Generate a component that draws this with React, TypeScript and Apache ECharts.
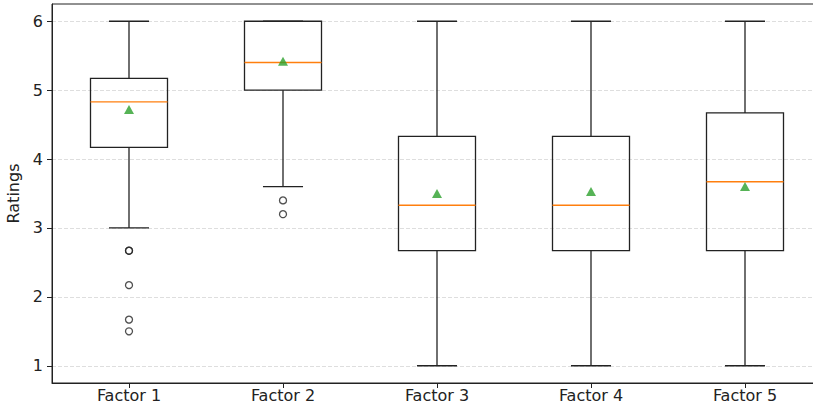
import React, { useEffect, useRef } from "react";
import * as echarts from "echarts";

const categories = ["Factor 1", "Factor 2", "Factor 3", "Factor 4", "Factor 5"];
// [whiskerLow, q1, median, q3, whiskerHigh]
const boxStats = [
  [3.0, 4.17, 4.83, 5.17, 6.0],
  [3.6, 5.0, 5.4, 6.0, 6.0],
  [1.0, 2.67, 3.33, 4.33, 6.0],
  [1.0, 2.67, 3.33, 4.33, 6.0],
  [1.0, 2.67, 3.67, 4.67, 6.0],
];
const means = [4.72, 5.42, 3.5, 3.53, 3.6];
// [categoryIndex, value]
const outliers = [
  [0, 2.67],
  [0, 2.67],
  [0, 2.17],
  [0, 1.67],
  [0, 1.5],
  [1, 3.4],
  [1, 3.2],
];
const yTicks = [1, 2, 3, 4, 5, 6];

export default function App() {
  const ref = useRef<HTMLDivElement>(null);
  useEffect(() => {
    if (!ref.current) return;
    const chart = echarts.init(ref.current, null, { renderer: "svg" });
    const font = "DejaVu Sans";
    chart.setOption({
      animation: false,
      backgroundColor: "#fff",
      grid: {
        left: 52,
        right: -9,
        top: 4,
        bottom: 23,
        show: true,
        containLabel: false,
        outerBoundsMode: "none",
        borderColor: "#222",
        borderWidth: 1,
        backgroundColor: "transparent",
      },
      xAxis: {
        type: "category",
        data: categories,
        boundaryGap: true,
        axisLine: { show: true, lineStyle: { color: "#222", width: 1 } },
        axisTick: { show: true, alignWithLabel: true, length: 5, lineStyle: { color: "#222" } },
        axisLabel: { color: "#222", fontFamily: font, fontSize: 16, margin: 4 },
        splitLine: { show: false },
      },
      yAxis: {
        type: "value",
        min: 0.75,
        max: 6.25,
        name: "Ratings",
        nameLocation: "middle",
        nameGap: 29,
        nameTextStyle: { color: "#222", fontFamily: font, fontSize: 16 },
        axisLine: { show: true, lineStyle: { color: "#222", width: 1 } },
        axisTick: { show: true, length: 5, customValues: yTicks, lineStyle: { color: "#222" } },
        axisLabel: { color: "#222", fontFamily: font, fontSize: 16, margin: 9, customValues: yTicks },
        splitLine: { show: true, lineStyle: { color: "#d6d6d6", type: [4, 2], width: 0.8 } },
      },
      series: [
        {
          type: "custom",
          z: 2,
          data: boxStats.map((s, i) => [i, ...s]),
          renderItem: (params: any, api: any) => {
            const idx = api.value(0);
            const lo = api.coord([idx, api.value(1)]);
            const q1 = api.coord([idx, api.value(2)]);
            const med = api.coord([idx, api.value(3)]);
            const q3 = api.coord([idx, api.value(4)]);
            const hi = api.coord([idx, api.value(5)]);
            const band = api.size([1, 0])[0];
            const bw = band * 0.5;
            const cw = band * 0.26;
            const cx = lo[0];
            const ls = { stroke: "#222", lineWidth: 1.3, fill: null };
            return {
              type: "group",
              children: [
                { type: "line", shape: { x1: cx, y1: q1[1], x2: cx, y2: lo[1] }, style: ls },
                { type: "line", shape: { x1: cx, y1: q3[1], x2: cx, y2: hi[1] }, style: ls },
                { type: "line", shape: { x1: cx - cw / 2, y1: lo[1], x2: cx + cw / 2, y2: lo[1] }, style: ls },
                { type: "line", shape: { x1: cx - cw / 2, y1: hi[1], x2: cx + cw / 2, y2: hi[1] }, style: ls },
                {
                  type: "rect",
                  shape: { x: cx - bw / 2, y: q3[1], width: bw, height: q1[1] - q3[1] },
                  style: { stroke: "#222", lineWidth: 1.3, fill: "rgba(0,0,0,0)" },
                },
                {
                  type: "line",
                  shape: { x1: cx - bw / 2, y1: med[1], x2: cx + bw / 2, y2: med[1] },
                  style: { stroke: "#ff7f0e", lineWidth: 1.4 },
                },
              ],
            };
          },
        },
        {
          type: "scatter",
          z: 3,
          data: outliers,
          symbol: "circle",
          symbolSize: 7,
          itemStyle: { color: "rgba(255,255,255,0)", borderColor: "#222", borderWidth: 1.3 },
        },
        {
          type: "scatter",
          z: 4,
          data: means.map((m, i) => [i, m]),
          symbol: "triangle",
          symbolSize: [10, 9],
          itemStyle: { color: "#2ca02c" },
        },
      ],
    });
    return () => chart.dispose();
  }, []);
  return (
    <div
      ref={ref}
      style={{ position: "fixed", left: 0, top: 0, width: 813, height: 406, background: "#fff" }}
    />
  );
}
